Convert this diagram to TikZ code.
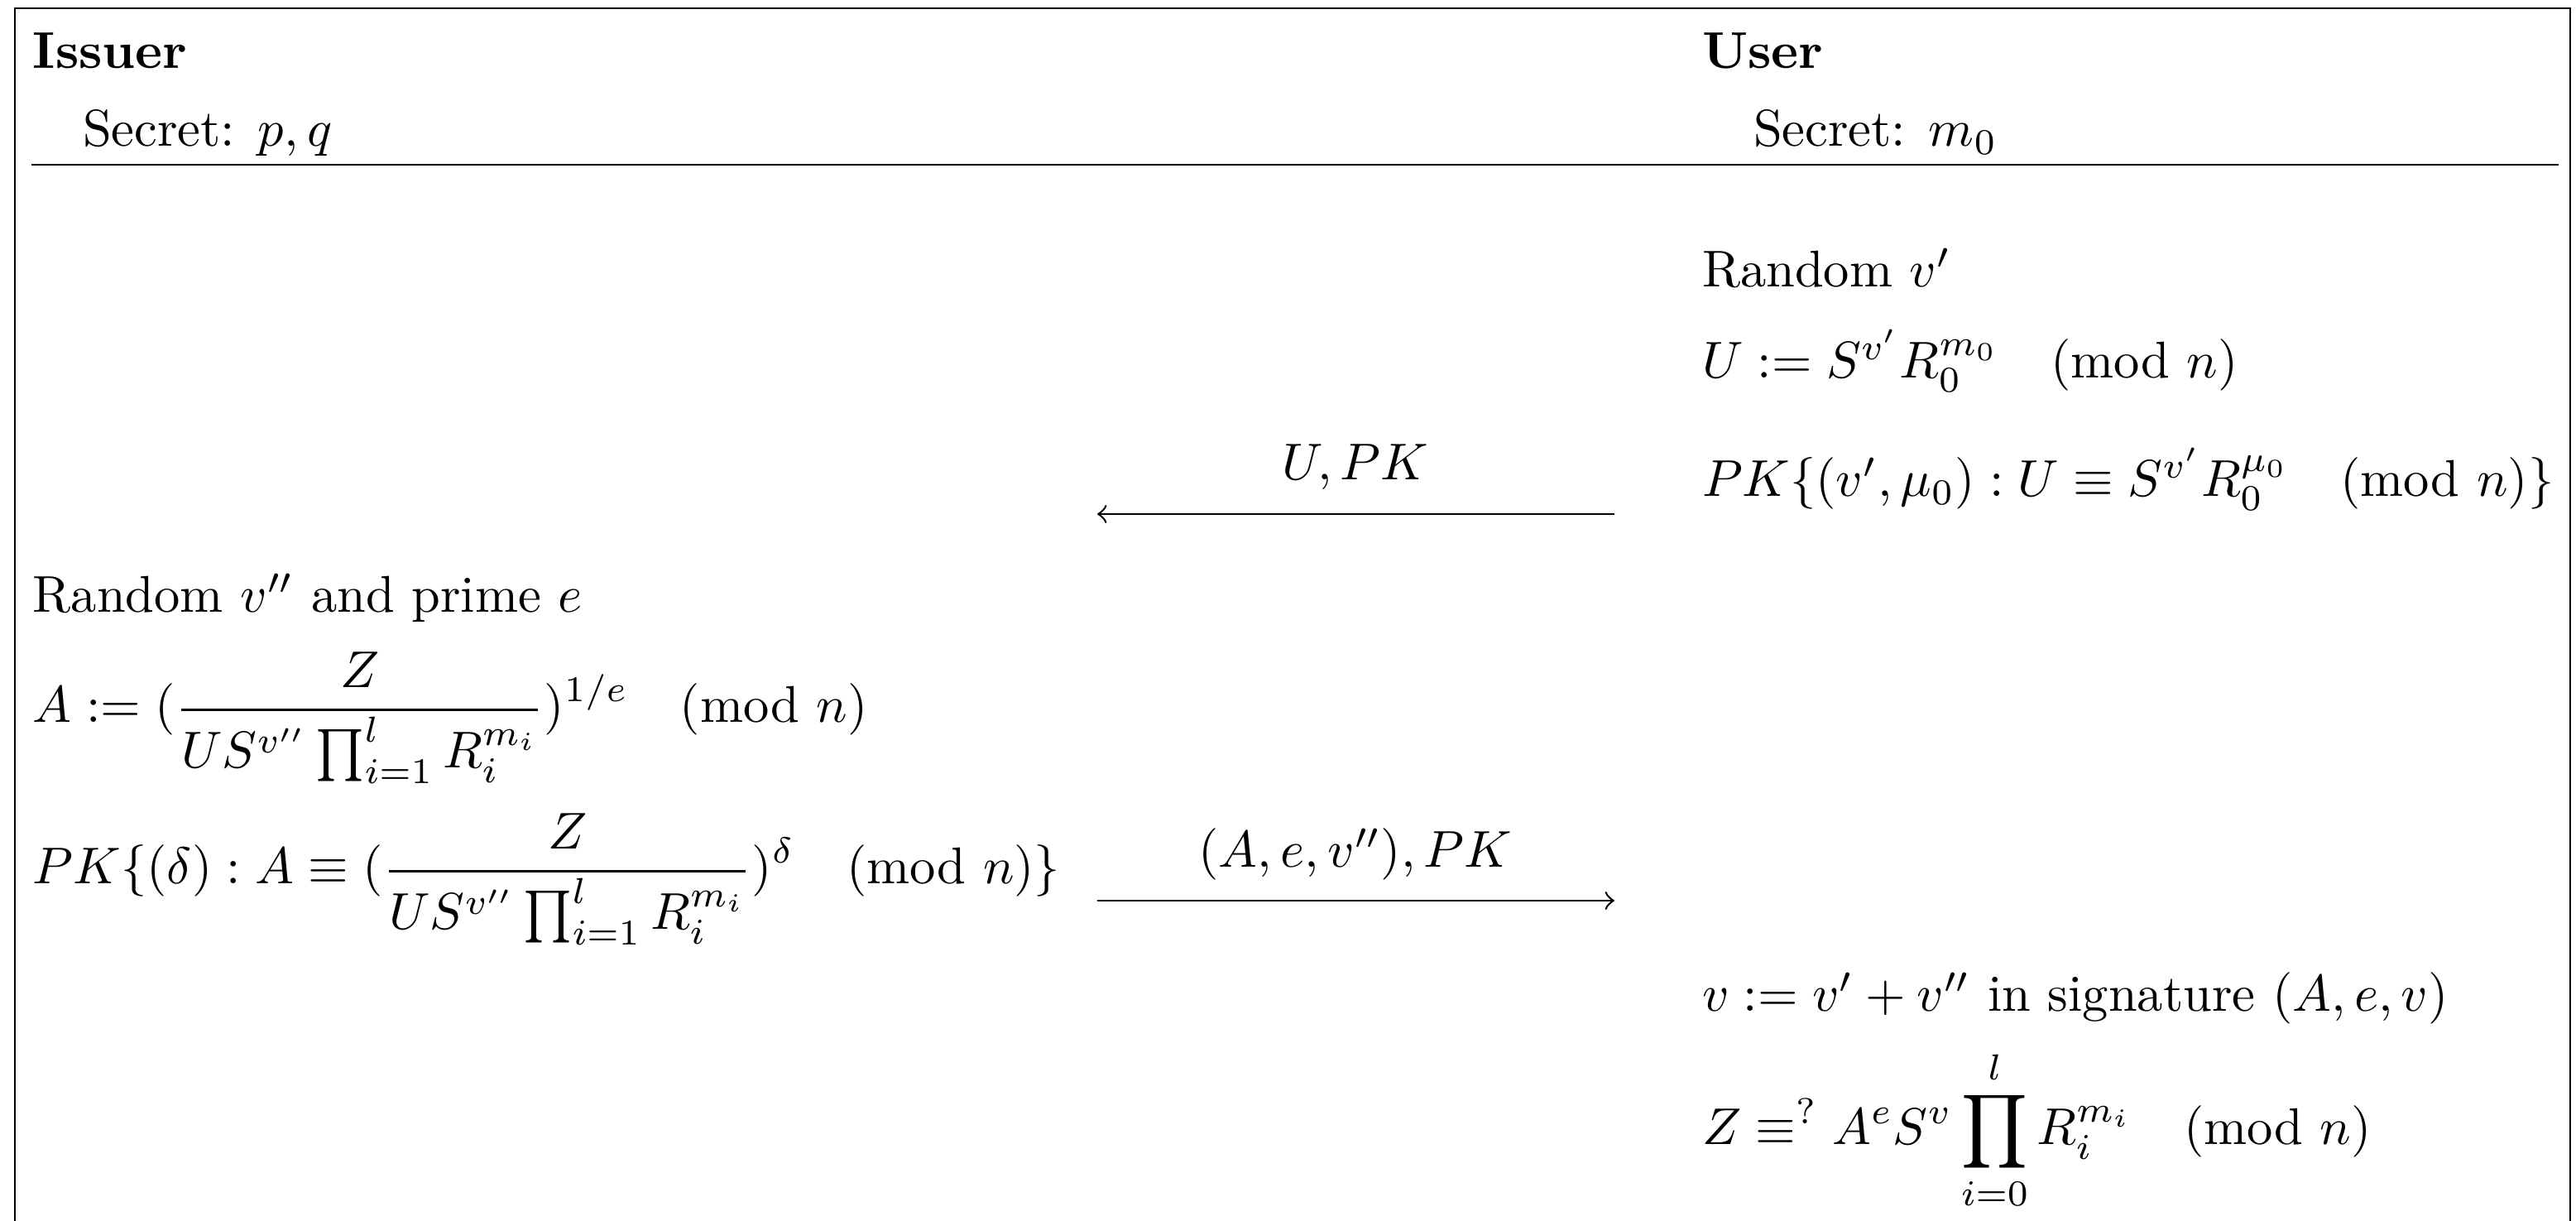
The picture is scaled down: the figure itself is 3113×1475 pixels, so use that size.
\documentclass[tikz,border=0pt]{standalone}
\usepackage{amsmath,amssymb}
\newcommand\pmodd[1]{\mkern18mu(\mathrm{mod}\mkern6mu #1)}
\begin{document}
\begin{tikzpicture}[x=0.16pt,y=-0.16pt,
  txt/.style={anchor=base west, inner sep=0pt, outer sep=0pt},
  lbl/.style={anchor=base, inner sep=0pt, outer sep=0pt},
  msg/.style={->, line width=0.4pt}]
\useasboundingbox (0,0) rectangle (3113,1475);
\draw (18,1475) -- (18,10) -- (3106,10) -- (3106,1475);
\draw (38,199) -- (3092,199);
\node[txt] (issuer) at (40,83) {\textbf{Issuer}};
\node[txt] (isec) at (100,177) {Secret: $p, q$};
\node[txt] (user) at (2057,83) {\textbf{User}};
\node[txt] (usec) at (2119,177) {Secret: $m_0$};
% user side
\node[txt] (u1) at (2057,347) {Random $v'$};
\node[txt] (u2) at (2057,457) {$U := S^{v'} R_0^{m_0} \pmodd{n}$};
\node[txt] (u3) at (2057,600) {$PK\{(v', \mu_0) : U \equiv S^{v'} R_0^{\mu_0} \pmodd{n}\}$};
% message 1
\coordinate (a1s) at (1951,621);
\coordinate (a1e) at (1326,621);
\draw[msg] (a1s) -- (a1e);
\node[lbl] (l1) at (1638,580) {$U, PK$};
% issuer side
\node[txt] (i1) at (40,740) {Random $v''$ and prime $e$};
\node[txt] (i2) at (40,873) {$\displaystyle A := (\frac{Z}{U S^{v''} \prod_{i=1}^{l} R_i^{m_i}})^{1/e} \pmodd{n}$};
\node[txt] (i3) at (40,1068) {$\displaystyle PK\{(\delta) : A \equiv (\frac{Z}{U S^{v''} \prod_{i=1}^{l} R_i^{m_i}})^{\delta} \pmodd{n}\}$};
% message 2
\coordinate (a2s) at (1326,1088);
\coordinate (a2e) at (1951,1088);
\draw[msg] (a2s) -- (a2e);
\node[lbl] (l2) at (1638,1048) {$(A, e, v''), PK$};
% user final
\node[txt] (u4) at (2057,1222) {$v := v' + v''$ in signature $(A, e, v)$};
\node[txt] (u5) at (2057,1383) {$\displaystyle Z \equiv^{?} A^e S^v \prod_{i=0}^{l} R_i^{m_i} \pmodd{n}$};
\end{tikzpicture}
\end{document}
